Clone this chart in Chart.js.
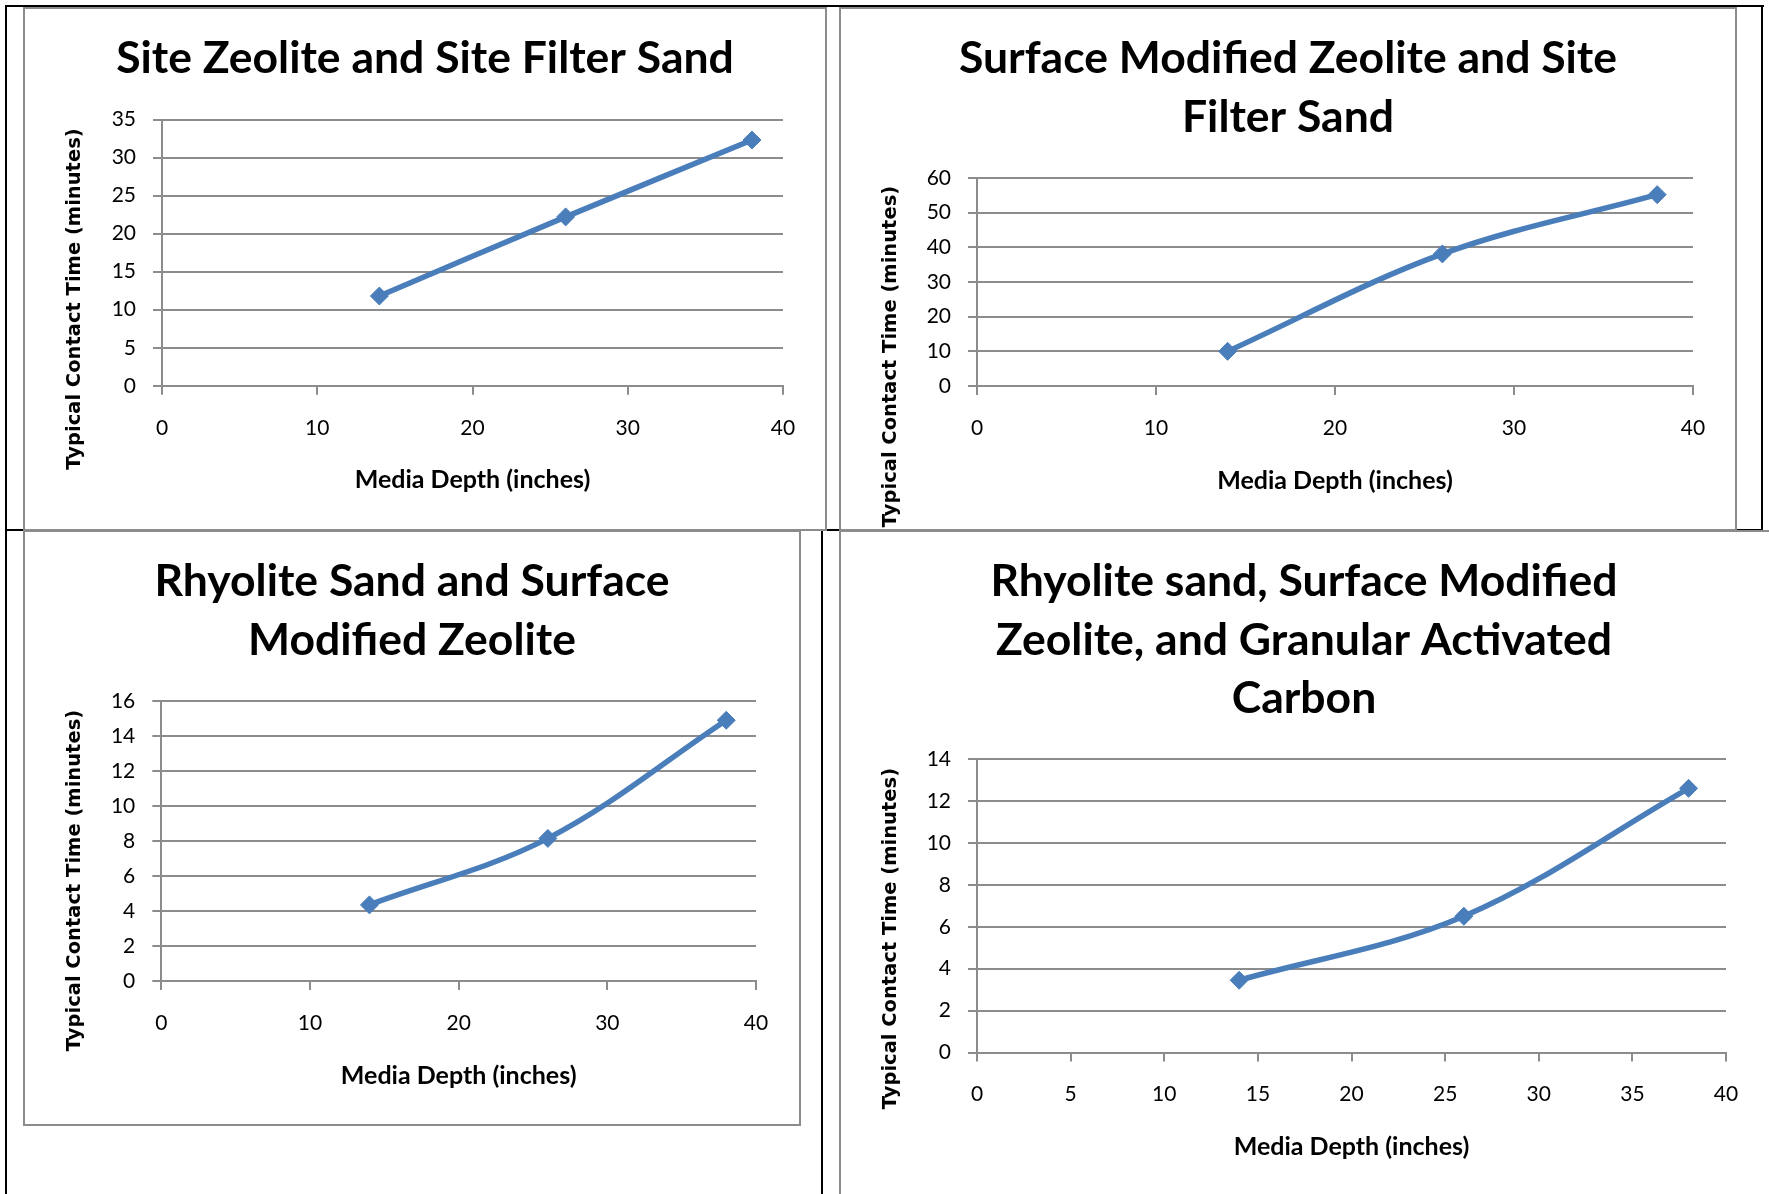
<!DOCTYPE html>
<html>
<head>
<meta charset="utf-8">
<script src="https://cdn.jsdelivr.net/npm/chart.js@4.4.1/dist/chart.umd.min.js"></script>
<style>
  body { margin: 0; background: #fff; }
  #page { position: relative; width: 1769px; height: 1194px; overflow: hidden; background: #fff; }
  .rule { position: absolute; background: #000; }
  .frame { position: absolute; border: 2px solid #8c8c8c; box-sizing: border-box; pointer-events: none; }
  canvas { position: absolute; }
</style>
</head>
<body>
<div id="page">
  <!-- table lines -->
  <div class="rule" style="left:5px; top:5px; width:1759px; height:2px;"></div>
  <div class="rule" style="left:5px; top:5px; width:2px; height:1189px;"></div>
  <div class="rule" style="left:1761px; top:5px; width:2px; height:526px;"></div>
  <div class="rule" style="left:5px; top:529px; width:1758px; height:2px;"></div>
  <div class="rule" style="left:821px; top:529px; width:2px; height:665px;"></div>

  <canvas id="c1" width="802" height="522" style="left:24px; top:8px;"></canvas>
  <canvas id="c2" width="896" height="522" style="left:840px; top:8px;"></canvas>
  <canvas id="c3" width="776" height="594" style="left:24px; top:531px;"></canvas>
  <canvas id="c4" width="928" height="663" style="left:840px; top:531px;"></canvas>

  <!-- chart borders -->
  <div class="frame" style="left:23px; top:7px; width:804px; height:524px;"></div>
  <div class="frame" style="left:839px; top:7px; width:898px; height:524px;"></div>
  <div class="frame" style="left:23px; top:530px; width:778px; height:596px;"></div>
  <div class="frame" style="left:839px; top:530px; width:940px; height:700px;"></div>
</div>
<script>
// media depth (inches) for every series
const depth = [14, 26, 38];

// typical contact time (minutes)
const siteZeoliteSand = [11.8, 22.2, 32.3];
const smzSiteSand = [10, 38.1, 55.2];
const rhyoliteSmz = [4.35, 8.15, 14.9];
const rhyoliteSmzGac = [3.45, 6.5, 12.6];

const titles = [
  ['Site Zeolite and Site Filter Sand'],
  ['Surface Modified Zeolite and Site', 'Filter Sand'],
  ['Rhyolite Sand and Surface', 'Modified Zeolite'],
  ['Rhyolite sand, Surface Modified', 'Zeolite, and Granular Activated', 'Carbon']
];

const yMax = [35, 60, 16, 14];
const yStep = [5, 10, 2, 2];
const xMax = 40;
const xStep = [10, 10, 10, 5];

const xLabel = 'Media Depth (inches)';
const yLabel = 'Typical Contact Time (minutes)';

const blue = '#4a7ebb';
const gridGray = '#8c8c8c';

// rotated y title, drawn where the original sits (not centred on the plot)
const yTitlePlugin = {
  id: 'yTitle',
  afterDraw(chart, args, opts) {
    const ctx = chart.ctx;
    ctx.save();
    ctx.translate(opts.x, opts.y);
    ctx.rotate(-Math.PI / 2);
    ctx.font = 'bold 19.5px "DejaVu Sans"';
    ctx.fillStyle = '#000';
    ctx.textAlign = 'center';
    ctx.textBaseline = 'middle';
    ctx.fillText(opts.text, 0, 0);
    ctx.restore();
  }
};

const TITLE_SIZE = 44.5;
const TITLE_LINE = 58.5;
const TITLE_PAD_TOP = 21.5;
const XTITLE_LINE = 30;

function makeChart(id, i, values, box) {
  const w = box.w, h = box.h;
  const side = w - box.right;
  const titlePadBottom = box.top - TITLE_PAD_TOP - TITLE_LINE * titles[i].length;
  const xAxisHeight = 94.5 + XTITLE_LINE / 2;
  const padBottom = h - box.bottom - xAxisHeight;

  return new Chart(document.getElementById(id), {
    type: 'line',
    data: {
      datasets: [{
        data: depth.map((x, k) => ({ x: x, y: values[k] })),
        borderColor: blue,
        backgroundColor: blue,
        borderWidth: 5.5,
        tension: 0.35,
        pointStyle: 'rectRot',
        pointRadius: 9,
        pointBorderWidth: 1,
        pointBackgroundColor: blue,
        pointBorderColor: blue
      }]
    },
    options: {
      responsive: false,
      animation: false,
      layout: { padding: { left: side, right: side, top: 0, bottom: padBottom } },
      plugins: {
        legend: { display: false },
        tooltip: { enabled: false },
        title: {
          display: true,
          text: titles[i],
          color: '#000',
          font: { family: 'Lato', size: TITLE_SIZE, weight: 'bold', lineHeight: TITLE_LINE / TITLE_SIZE },
          padding: { top: TITLE_PAD_TOP, bottom: titlePadBottom }
        },
        yTitle: { text: yLabel, x: box.tx, y: box.ty }
      },
      scales: {
        x: {
          type: 'linear',
          min: 0,
          max: xMax,
          afterFit: (s) => { s.height = xAxisHeight; },
          ticks: { stepSize: xStep[i], padding: 20.4, color: '#000', font: { family: 'Lato', size: 21 } },
          grid: { drawOnChartArea: false, color: gridGray, lineWidth: 2, tickLength: 9 },
          border: { color: gridGray, width: 2 },
          title: {
            display: true,
            text: xLabel,
            color: '#000',
            font: { family: 'Lato', size: 25, weight: 'bold', lineHeight: XTITLE_LINE / 25 },
            padding: { top: 0, bottom: 0 }
          }
        },
        y: {
          min: 0,
          max: yMax[i],
          afterFit: (s) => { s.width = box.left - side; },
          ticks: { stepSize: yStep[i], padding: 17, color: '#000', font: { family: 'Lato', size: 21 } },
          grid: { color: gridGray, lineWidth: 2, tickLength: 9 },
          border: { color: gridGray, width: 2 }
        }
      }
    },
    plugins: [yTitlePlugin]
  });
}

makeChart('c1', 0, siteZeoliteSand, { w: 802, h: 522, left: 138, right: 759, top: 111.5, bottom: 377.8, tx: 50.5, ty: 291 });
makeChart('c2', 1, smzSiteSand, { w: 896, h: 522, left: 137, right: 853, top: 170, bottom: 378, tx: 51, ty: 348.5 });
makeChart('c3', 2, rhyoliteSmz, { w: 776, h: 594, left: 137.3, right: 732, top: 170, bottom: 450, tx: 50.5, ty: 349.5 });
makeChart('c4', 3, rhyoliteSmzGac, { w: 928, h: 663, left: 137, right: 886, top: 228, bottom: 521.6, tx: 51, ty: 407.6 });
</script>
</body>
</html>
